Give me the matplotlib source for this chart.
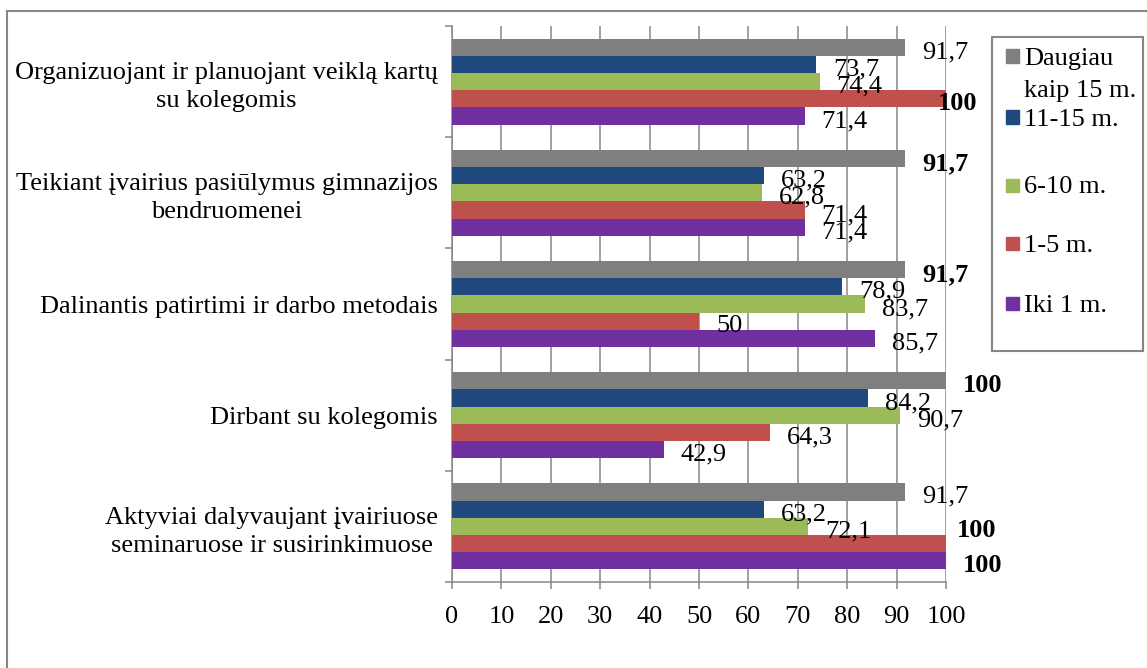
import matplotlib
matplotlib.use("Agg")
import matplotlib.pyplot as plt
from matplotlib.patches import Rectangle
from matplotlib.lines import Line2D
import numpy as np

categories = [
    "Organizuojant ir planuojant veiklą kartų\nsu kolegomis",
    "Teikiant įvairius pasiūlymus gimnazijos\nbendruomenei",
    "Dalinantis patirtimi ir darbo metodais",
    "Dirbant su kolegomis",
    "Aktyviai dalyvaujant įvairiuose\nseminaruose ir susirinkimuose",
]
series_names = ["Daugiau\nkaip 15 m.", "11-15 m.", "6-10 m.", "1-5 m.", "Iki 1 m."]
daugiau_15 = [91.7, 91.7, 91.7, 100, 91.7]
m11_15 = [73.7, 63.2, 78.9, 84.2, 63.2]
m6_10 = [74.4, 62.8, 83.7, 90.7, 72.1]
m1_5 = [100, 71.4, 50, 64.3, 100]
iki_1 = [71.4, 71.4, 85.7, 42.9, 100]
series_values = [daugiau_15, m11_15, m6_10, m1_5, iki_1]
x_ticks = [0, 10, 20, 30, 40, 50, 60, 70, 80, 90, 100]

colors = ["#7F7F7F", "#1F497D", "#9BBB59", "#C0504D", "#7030A0"]
grid_c = "#868686"

plt.rcParams['font.family'] = ['Liberation Serif', 'DejaVu Serif']
FS = 19

W, H = 1147, 668
fig = plt.figure(figsize=(W / 100, H / 100), dpi=100)
ax = fig.add_axes([452 / W, 1 - 582 / H, (946 - 452) / W, (582 - 26) / H])

# label nudges in pixels (series index, group index) -> (dx, dy)
nudge = {(3, 0): (-25, 0), (3, 4): (-6, 18)}

n = len(series_names)
bh = 0.155
y_centers = np.arange(len(categories))
for j, (vals, c) in enumerate(zip(series_values, colors)):
    ys = y_centers + (j - (n - 1) / 2) * bh
    ax.barh(ys, vals, height=bh, color=c, edgecolor='none', zorder=3)
    for i, v in enumerate(vals):
        gmax = max(s[i] for s in series_values)
        lab = ("%g" % v).replace(".", ",")
        dx, dy = nudge.get((j, i), (0, 0))
        ax.annotate(lab, xy=(v, ys[i]), xytext=(17 + dx, -5 + dy), textcoords='offset pixels',
                    ha='left', va='center', fontsize=FS,
                    fontweight='bold' if v == gmax else 'normal', zorder=5,
                    annotation_clip=False)

ax.set_xlim(0, 100)
ax.set_ylim(len(categories) - 0.5, -0.5)
ax.set_xticks(x_ticks)
ax.set_xticklabels([str(t) for t in x_ticks], fontsize=FS)
ax.set_yticks(y_centers)
ax.set_yticklabels(categories, fontsize=FS, multialignment='center', linespacing=1.35)
ax.set_yticks(np.arange(-0.5, len(categories)), minor=True)
ax.tick_params(axis='y', which='major', length=0, pad=10)
ax.tick_params(axis='y', which='minor', length=5, color=grid_c, width=1.1, direction='out')
ax.tick_params(axis='x', which='major', length=5, color=grid_c, width=1.1, direction='out', pad=12)
ax.grid(axis='x', color=grid_c, linewidth=1.1, zorder=0)
ax.set_axisbelow(True)
for s in ['top', 'right']:
    ax.spines[s].set_visible(False)
for s in ['left', 'bottom']:
    ax.spines[s].set_color(grid_c)
    ax.spines[s].set_linewidth(1.1)

# outer chart border (left and top visible)
fig.add_artist(Line2D([7 / W, 7 / W], [0, 1 - 11 / H], transform=fig.transFigure, color=grid_c, lw=1.5))
fig.add_artist(Line2D([7 / W, 1], [1 - 11 / H, 1 - 11 / H], transform=fig.transFigure, color=grid_c, lw=1.5))

# legend box
fig.add_artist(Rectangle((992 / W, 1 - 351 / H), (1143 - 992) / W, (351 - 37) / H,
                         transform=fig.transFigure, fill=False, edgecolor=grid_c, lw=1.5))
leg_y = [56, 117, 185, 243, 304]
for name, c, yc in zip(series_names, colors, leg_y):
    fig.add_artist(Rectangle((1006 / W, 1 - (yc + 6.5) / H), 13 / W, 13 / H,
                             transform=fig.transFigure, color=c))
    for k, line in enumerate(name.split("\n")):
        fig.text(1024 / W, 1 - (yc + 33 * k) / H, line, ha='left', va='center_baseline', fontsize=FS)

fig.savefig("out.png", dpi=100)
